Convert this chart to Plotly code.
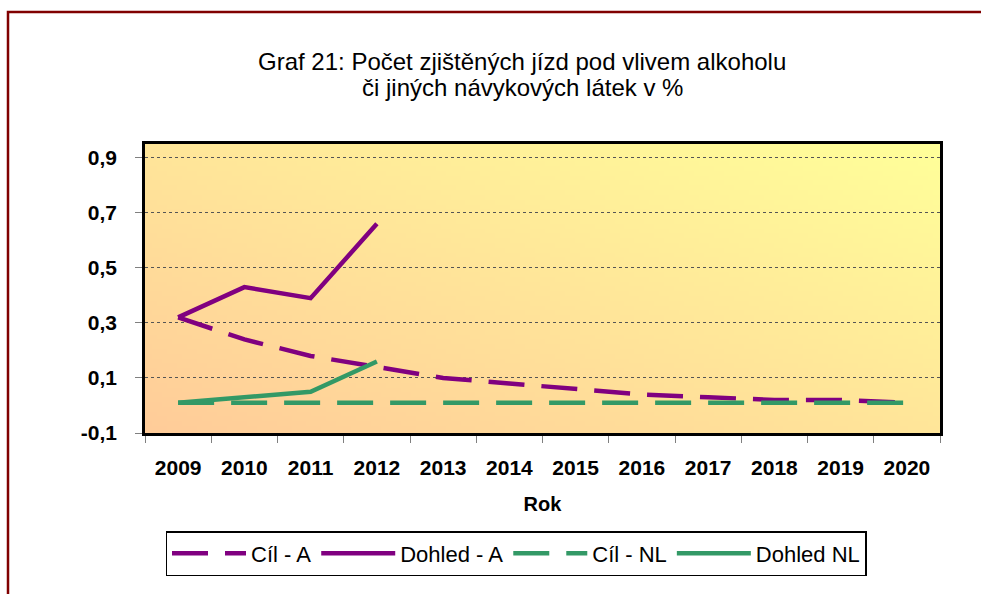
import base64, struct, zlib
import plotly.graph_objects as go

years = ["2009", "2010", "2011", "2012", "2013", "2014", "2015", "2016", "2017", "2018", "2019", "2020"]
cil_a = [0.32, 0.24, 0.18, 0.14, 0.10, 0.08, 0.06, 0.04, 0.03, 0.02, 0.02, 0.01]
dohled_a = [0.32, 0.43, 0.39, 0.66, None, None, None, None, None, None, None, None]
cil_nl = [0.01, 0.01, 0.01, 0.01, 0.01, 0.01, 0.01, 0.01, 0.01, 0.01, 0.01, 0.01]
dohled_nl = [0.01, 0.03, 0.05, 0.16, None, None, None, None, None, None, None, None]
y_ticks = [-0.1, 0.1, 0.3, 0.5, 0.7, 0.9]
y_tick_labels = ["-0,1", "0,1", "0,3", "0,5", "0,7", "0,9"]

PURPLE = "#800080"
GREEN = "#339966"
FONT = "Liberation Sans, Arial, sans-serif"


def gradient_png(w, h, c0, c1):
    rows = b""
    for j in range(h):
        row = b"\x00"
        for i in range(w):
            t = (i / (w - 1) + (1 - j / (h - 1))) / 2
            row += bytes(int(round(c0[k] + (c1[k] - c0[k]) * t)) for k in range(3))
        rows += row

    def chunk(tag, data):
        c = struct.pack(">I", len(data)) + tag + data
        return c + struct.pack(">I", zlib.crc32(tag + data) & 0xFFFFFFFF)

    png = b"\x89PNG\r\n\x1a\n"
    png += chunk(b"IHDR", struct.pack(">IIBBBBB", w, h, 8, 2, 0, 0, 0))
    png += chunk(b"IDAT", zlib.compress(rows, 9))
    png += chunk(b"IEND", b"")
    return "data:image/png;base64," + base64.b64encode(png).decode()


bg = gradient_png(160, 60, (255, 204, 153), (255, 255, 153))

fig = go.Figure()
dash = "36px,17px"
fig.add_trace(go.Scatter(x=years, y=cil_a, name="Cíl - A", mode="lines",
                         line=dict(color=PURPLE, width=4.5, dash=dash)))
fig.add_trace(go.Scatter(x=years, y=dohled_a, name="Dohled - A", mode="lines",
                         line=dict(color=PURPLE, width=4.5)))
fig.add_trace(go.Scatter(x=years, y=cil_nl, name="Cíl - NL", mode="lines",
                         line=dict(color=GREEN, width=4.5, dash=dash)))
fig.add_trace(go.Scatter(x=years, y=dohled_nl, name="Dohled NL", mode="lines",
                         line=dict(color=GREEN, width=4.5)))

L, R, T, B = 145, 41, 144, 161
W, H = 981, 594
pw, ph = W - L - R, H - T - B


def px_x(x):
    return (x - L) / pw


def px_y(y):
    return (H - B - y) / ph


fig.update_layout(
    width=W, height=H,
    margin=dict(l=L, r=R, t=T, b=B),
    paper_bgcolor="white",
    plot_bgcolor="rgba(0,0,0,0)",
    font=dict(family=FONT, color="black"),
    showlegend=True,
    legend=dict(
        orientation="h", x=px_x(516), y=px_y(531), xanchor="center", yanchor="top",
        bgcolor="white", bordercolor="black", borderwidth=1.5,
        font=dict(size=22, weight="normal", family=FONT), itemwidth=74, traceorder="normal",
    ),
    images=[dict(source=bg, xref="paper", yref="paper", x=0, y=1, sizex=1, sizey=1,
                 sizing="stretch", layer="below", xanchor="left", yanchor="top")],
    shapes=[dict(type="rect", xref="paper", yref="paper",
                 x0=px_x(8), y0=px_y(700), x1=px_x(1100), y1=px_y(12),
                 line=dict(color="#800000", width=2.5), fillcolor="rgba(0,0,0,0)", layer="below")],
    annotations=[
        dict(text="Graf 21: Počet zjištěných jízd pod vlivem alkoholu", xref="paper", yref="paper",
             x=px_x(522), y=px_y(61), xanchor="center", yanchor="middle", showarrow=False,
             font=dict(size=24)),
        dict(text="či jiných návykových látek v %", xref="paper", yref="paper",
             x=px_x(522), y=px_y(87), xanchor="center", yanchor="middle", showarrow=False,
             font=dict(size=24)),
    ],
)

fig.update_xaxes(
    type="category", categoryorder="array", categoryarray=years, range=[-0.5, 11.5],
    showline=True, linecolor="black", linewidth=2.5, mirror=True,
    ticks="outside", tickson="boundaries", ticklen=7, tickcolor="#808080", tickwidth=1,
    showgrid=False, tickfont=dict(size=21, family=FONT, weight="bold"),
    ticklabelstandoff=14,
    title=dict(text="Rok", font=dict(size=20, weight="bold"), standoff=20),
)
fig.update_yaxes(
    range=[-0.1, 0.95], tickmode="array", tickvals=y_ticks, ticktext=y_tick_labels,
    showline=True, linecolor="black", linewidth=2.5, mirror=True,
    ticks="outside", ticklen=7, tickcolor="#808080", tickwidth=1,
    showgrid=True, gridcolor="#555555", griddash="dot", gridwidth=1,
    zeroline=False, tickfont=dict(size=21, family=FONT, weight="bold"), ticklabelstandoff=14,
)

fig.write_html("out.html", config={"displayModeBar": False},
               post_script="document.body.style.margin='0';")
